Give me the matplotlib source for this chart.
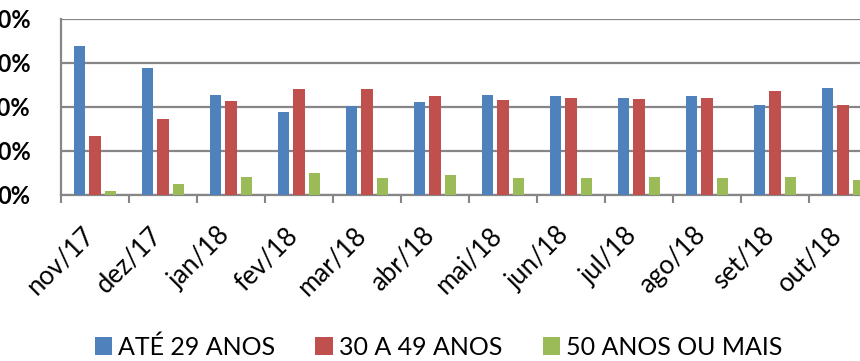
import matplotlib
matplotlib.use("Agg")
import matplotlib.pyplot as plt
import numpy as np

# Monthly share of hires by age group (%)
months = ["nov/17", "dez/17", "jan/18", "fev/18", "mar/18", "abr/18",
          "mai/18", "jun/18", "jul/18", "ago/18", "set/18", "out/18"]
ate_29 = [67.9, 57.7, 45.3, 37.8, 40.6, 42.3, 45.6, 44.8, 44.1, 45.0, 41.0, 48.6]
de_30_a_49 = [26.6, 34.5, 42.9, 48.0, 48.2, 45.0, 43.0, 44.2, 43.5, 44.2, 47.4, 41.0]
mais_50 = [1.7, 5.0, 8.1, 10.1, 7.5, 8.9, 7.5, 7.5, 8.1, 7.5, 8.1, 6.9]
series_names = ["ATÉ 29 ANOS", "30 A 49 ANOS", "50 ANOS OU MAIS"]
y_ticks = [0, 20, 40, 60, 80]

colors = ["#4F81BD", "#C0504D", "#9BBB59"]
grid_color = "#868686"
font = ["Lato", "DejaVu Sans"]

fig = plt.figure(figsize=(8.6, 3.61), dpi=100)
ax = fig.add_axes([61 / 860, 1 - 195 / 361, 816 / 860, 176 / 361])

x = np.arange(len(months))
width = 0.17
step = 0.225
for i, (vals, c, name) in enumerate(zip([ate_29, de_30_a_49, mais_50], colors, series_names)):
    ax.bar(x + (i - 1) * step, vals, width=width, color=c, label=name, zorder=3)

ax.set_xlim(-0.5, len(months) - 0.5)
ax.set_ylim(0, 80)
ax.set_yticks(y_ticks)
ax.set_yticklabels([f"{v}%" for v in y_ticks], fontsize=17, fontweight="bold",
                   family=font)
ax.tick_params(axis="y", length=0, pad=22)
ax.yaxis.grid(True, color=grid_color, linewidth=1.6, zorder=0)

ax.set_xticks(x)
ax.set_xticklabels(months, rotation=45, ha="right", va="baseline",
                   rotation_mode="anchor", fontsize=18.5, family=font)
ax.set_xticks(np.arange(-0.5, len(months), 1.0), minor=True)
ax.tick_params(axis="x", which="major", length=0, pad=30)
ax.tick_params(axis="x", which="minor", length=6, width=1.5, color=grid_color)

for side in ["top", "right"]:
    ax.spines[side].set_visible(False)
for side in ["left", "bottom"]:
    ax.spines[side].set_color(grid_color)
    ax.spines[side].set_linewidth(1.6)

leg = fig.legend(loc="center", bbox_to_anchor=(0.51, 1 - 347 / 361), ncol=3,
                 frameon=False, prop={"family": font, "size": 18},
                 handlelength=0.7, handleheight=0.7, handletextpad=0.25,
                 columnspacing=1.6)

fig.savefig("out.png", dpi=100)
